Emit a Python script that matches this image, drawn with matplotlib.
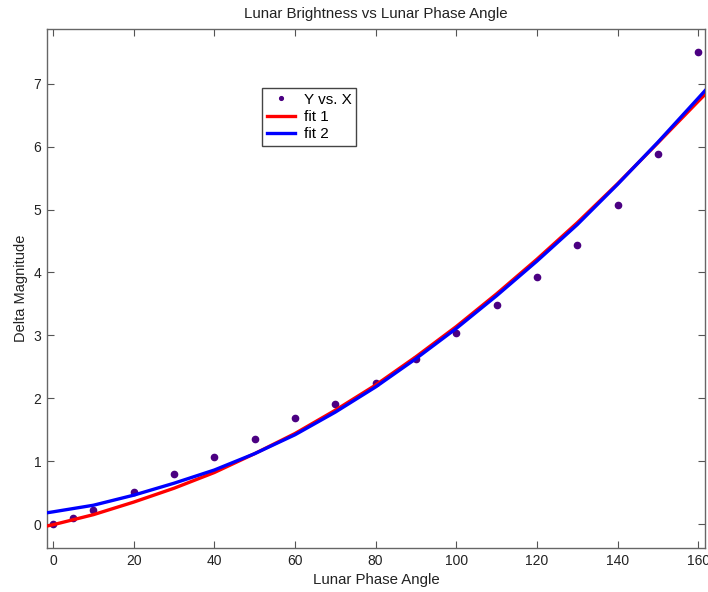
import matplotlib
matplotlib.use("Agg")
import matplotlib.pyplot as plt

plt.rcParams['font.family'] = ['Liberation Sans', 'DejaVu Sans']

# Data points (Y vs. X)
phase_angle = [0, 5, 10, 20, 30, 40, 50, 60, 70, 80, 90, 100, 110, 120, 130, 140, 150, 160]
delta_mag = [0.00, 0.09, 0.23, 0.51, 0.80, 1.07, 1.35, 1.69, 1.91, 2.25, 2.63, 3.04, 3.48, 3.93, 4.44, 5.07, 5.89, 7.50]

# Fit curves
fit_x = [-1.5, 0, 10, 20, 30, 40, 50, 60, 70, 80, 90, 100, 110, 120, 130, 140, 150, 160, 161.7]
fit1_y = [-0.03, -0.01, 0.15, 0.35, 0.57, 0.82, 1.12, 1.44, 1.81, 2.21, 2.66, 3.14, 3.66, 4.21, 4.79, 5.41, 6.06, 6.72, 6.83]
fit2_y = [0.18, 0.195, 0.30, 0.46, 0.65, 0.86, 1.12, 1.42, 1.78, 2.18, 2.63, 3.11, 3.63, 4.18, 4.76, 5.40, 6.07, 6.77, 6.89]

x_ticks = [0, 20, 40, 60, 80, 100, 120, 140, 160]
y_ticks = [0, 1, 2, 3, 4, 5, 6, 7]

fig = plt.figure(figsize=(7.08, 5.92), dpi=100)
ax = fig.add_axes([0.0664, 0.0743, 0.9294, 0.8767])

ax.plot(phase_angle, delta_mag, linestyle='none', marker='o', markersize=4.5,
        color='#4B0082', label='Y vs. X', zorder=2)
ax.plot(fit_x, fit1_y, color='#ff0000', linewidth=2.4, label='fit 1', zorder=3)
ax.plot(fit_x, fit2_y, color='#0000ff', linewidth=2.4, label='fit 2', zorder=4)

ax.set_xlim(-1.5, 161.7)
ax.set_ylim(-0.38, 7.87)
ax.set_xticks(x_ticks)
ax.set_yticks(y_ticks)
ax.tick_params(direction='in', length=5, width=0.8, top=True, right=True,
               labelsize=10, colors='#555555', labelcolor='#222222', pad=4)
for s in ax.spines.values():
    s.set_color('#666666')
    s.set_linewidth(1.0)

ax.set_title('Lunar Brightness vs Lunar Phase Angle', fontsize=10.8, color='#222222', pad=8)
ax.set_xlabel('Lunar Phase Angle', fontsize=10.8, color='#222222', labelpad=4)
ax.set_ylabel('Delta Magnitude', fontsize=10.5, color='#222222', labelpad=4)

leg = ax.legend(loc='upper left', bbox_to_anchor=(0.3267, 0.8863), fontsize=11,
                frameon=True, fancybox=False, edgecolor='#444444', framealpha=1,
                handlelength=1.85, borderpad=0.3, labelspacing=0.22, handletextpad=0.6,
                borderaxespad=0.0, markerscale=0.6)
leg.get_frame().set_linewidth(1.0)

fig.savefig('out.png', dpi=100)
